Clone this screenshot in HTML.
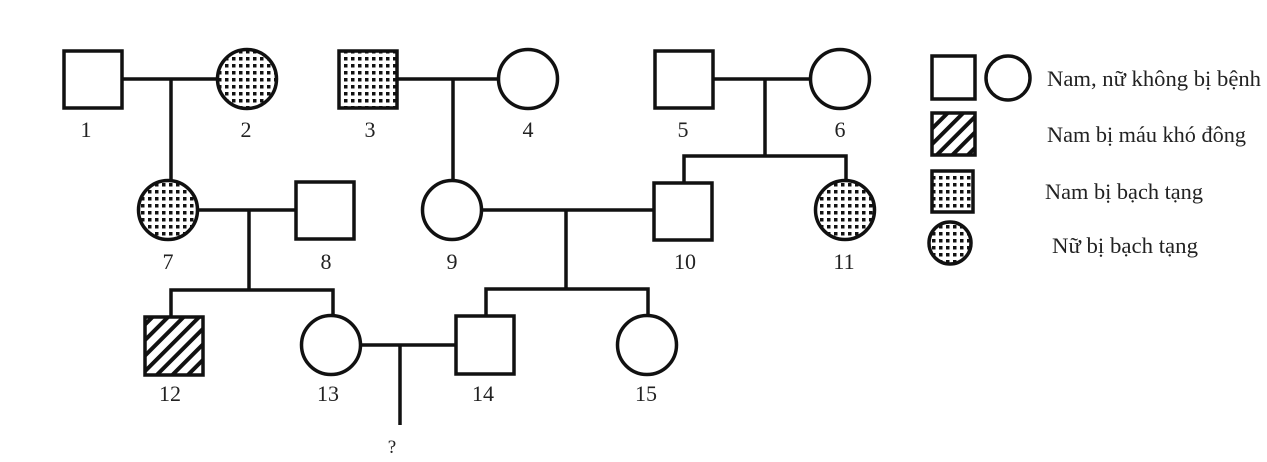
<!DOCTYPE html>
<html><head><meta charset="utf-8"><style>
html,body{margin:0;padding:0;background:#fff;}
svg{display:block;}
text{font-family:"Liberation Serif",serif;font-size:22px;fill:#222;}
.lg{font-size:22px;}
</style></head><body>
<svg width="1267" height="462" viewBox="0 0 1267 462" xmlns="http://www.w3.org/2000/svg">
<defs>
<pattern id="dots" width="7" height="7" patternUnits="userSpaceOnUse">
<rect width="7" height="7" fill="#fff"/>
<rect x="1" y="1" width="3.5" height="3.5" fill="#111"/>
</pattern>
<pattern id="hatch" width="11" height="11" patternUnits="userSpaceOnUse" patternTransform="rotate(45)">
<rect width="11" height="11" fill="#fff"/>
<rect x="0" y="0" width="4" height="11" fill="#111"/>
</pattern>
</defs>
<g stroke="#111" stroke-width="3.5" fill="none">
<line x1="122" y1="79" x2="217" y2="79"/>
<line x1="171" y1="79" x2="171" y2="180"/>
<line x1="397" y1="79" x2="498" y2="79"/>
<line x1="453" y1="79" x2="453" y2="180"/>
<line x1="713" y1="79" x2="810" y2="79"/>
<line x1="765" y1="79" x2="765" y2="156"/>
<polyline points="684,183 684,156 846,156 846,180"/>
<line x1="198" y1="210" x2="296" y2="210"/>
<line x1="249" y1="210" x2="249" y2="290"/>
<polyline points="171,317 171,290 333,290 333,316"/>
<line x1="482" y1="210" x2="654" y2="210"/>
<line x1="566" y1="210" x2="566" y2="289"/>
<polyline points="486,316 486,289 648,289 648,316"/>
<line x1="360" y1="345" x2="456" y2="345"/>
<line x1="400" y1="345" x2="400" y2="425"/>
<rect x="64" y="51" width="58" height="57" fill="#fff"/>
<circle cx="247" cy="79" r="29.5" fill="url(#dots)"/>
<rect x="339" y="51" width="58" height="57" fill="url(#dots)"/>
<circle cx="528" cy="79" r="29.5" fill="#fff"/>
<rect x="655" y="51" width="58" height="57" fill="#fff"/>
<circle cx="840" cy="79" r="29.5" fill="#fff"/>
<circle cx="168" cy="210" r="29.5" fill="url(#dots)"/>
<rect x="296" y="182" width="58" height="57" fill="#fff"/>
<circle cx="452" cy="210" r="29.5" fill="#fff"/>
<rect x="654" y="183" width="58" height="57" fill="#fff"/>
<circle cx="845" cy="210" r="29.5" fill="url(#dots)"/>
<rect x="145" y="317" width="58" height="58" fill="url(#hatch)"/>
<circle cx="331" cy="345" r="29.5" fill="#fff"/>
<rect x="456" y="316" width="58" height="58" fill="#fff"/>
<circle cx="647" cy="345" r="29.5" fill="#fff"/>
<rect x="932" y="56" width="43" height="43" fill="#fff"/>
<circle cx="1008" cy="78" r="22" fill="#fff"/>
<rect x="932" y="113" width="43" height="42" fill="url(#hatch)"/>
<rect x="932" y="171" width="41" height="41" fill="url(#dots)"/>
<circle cx="950" cy="243" r="21" fill="url(#dots)"/>
</g>
<g text-anchor="middle">
<text x="86" y="137">1</text>
<text x="246" y="137">2</text>
<text x="370" y="137">3</text>
<text x="528" y="137">4</text>
<text x="683" y="137">5</text>
<text x="840" y="137">6</text>
<text x="168" y="269">7</text>
<text x="326" y="269">8</text>
<text x="452" y="269">9</text>
<text x="685" y="269">10</text>
<text x="844" y="269">11</text>
<text x="170" y="401">12</text>
<text x="328" y="401">13</text>
<text x="483" y="401">14</text>
<text x="646" y="401">15</text>
<text x="392" y="453" style="font-size:19px">?</text>
</g>
<text class="lg" x="1047" y="86" textLength="214" lengthAdjust="spacingAndGlyphs">Nam, nữ không bị bệnh</text>
<text class="lg" x="1047" y="142" textLength="199" lengthAdjust="spacingAndGlyphs">Nam bị máu khó đông</text>
<text class="lg" x="1045" y="199" textLength="158" lengthAdjust="spacingAndGlyphs">Nam bị bạch tạng</text>
<text class="lg" x="1052" y="253" textLength="146" lengthAdjust="spacingAndGlyphs">Nữ bị bạch tạng</text>
</svg>
</body></html>
